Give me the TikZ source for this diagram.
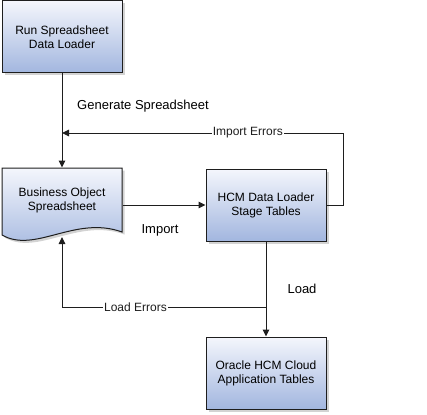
\documentclass[tikz,border=0pt]{standalone}
\usepackage{fontspec}
\setmainfont{Liberation Sans}
\usetikzlibrary{arrows.meta,shadows}
\definecolor{boxtop}{HTML}{F4F6FC}
\definecolor{boxbot}{HTML}{A2B6DF}
\definecolor{edgegray}{HTML}{1E1E1E}
\begin{document}
\begin{tikzpicture}[
            x = 1pt, y = -1pt,
            > = {Triangle[length=7pt,width=6.5pt]}, % arrow head style
            line width = 1pt, % line style
            stagebox/.style = {shape=rectangle, draw=edgegray, top color=boxtop, bottom color=boxbot,
                drop shadow={shadow xshift=2.5pt, shadow yshift=-2.5pt, opacity=0.35, fill=gray},
                minimum width=120pt, minimum height=72pt, align=center, font=\fontsize{12}{14}\selectfont},
            flowlabel/.style = {font=\fontsize{13}{15}\selectfont},
            errlabel/.style = {fill=white, inner sep=1pt, font=\fontsize{12}{14}\selectfont}
        ]
\useasboundingbox (0,0) rectangle (427,414);

\node[stagebox] (run) at (62,37) {Run Spreadsheet\\Data Loader};
\node[stagebox] (hcm) at (266,205) {HCM Data Loader\\Stage Tables};
\node[stagebox] (oracle) at (266,373) {Oracle HCM Cloud\\Application Tables};

% spreadsheet document shape
\path[draw=edgegray, top color=boxtop, bottom color=boxbot,
      drop shadow={shadow xshift=2.5pt, shadow yshift=-2.5pt, opacity=0.35, fill=gray}]
    (2,168) -- (122,168) -- (122,232) .. controls (75,215) and (35,254) .. (2,235) -- cycle;
\node[align=center, font=\fontsize{12}{14}\selectfont, minimum width=120pt, minimum height=64pt] (bos) at (62,200) {Business Object\\Spreadsheet};
\coordinate (bosbot) at (62,237);

\coordinate (ie) at (62,133);
\coordinate (le) at (266,307);

\draw[->, edgegray] (run) -- (bos.north);
\draw[->, edgegray] (bos.east |- hcm.west) -- (hcm.west);
\draw[->, edgegray] (hcm) -- (oracle);
\draw[->, edgegray] (hcm.east) -- ++(17,0) |- (ie) node[errlabel, pos=0.67] {Import Errors};
\draw[->, edgegray] (le) -| (bosbot) node[errlabel, pos=0.32] {Load Errors};

\node[flowlabel] (gen) at (143,106) {Generate Spreadsheet};
\node[flowlabel] (imp) at (160,230) {Import};
\node[flowlabel] (load) at (302,289) {Load};
\end{tikzpicture}
\end{document}
